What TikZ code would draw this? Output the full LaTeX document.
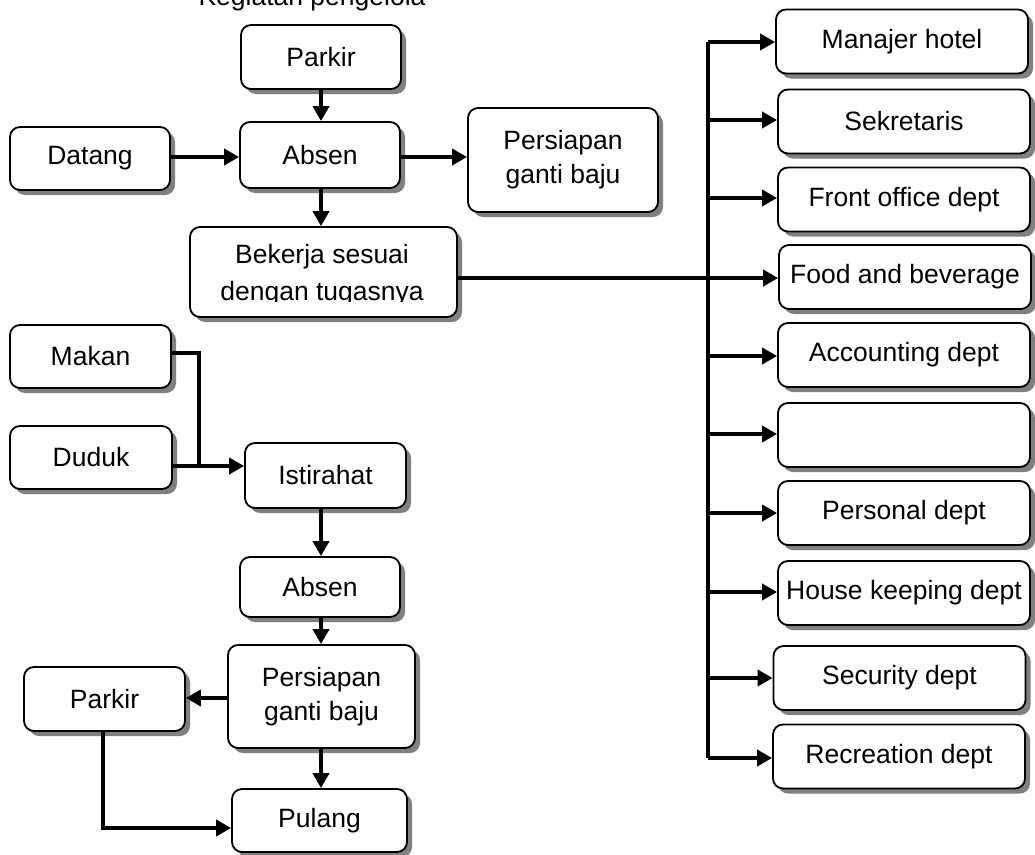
\documentclass[tikz,border=0pt]{standalone}
\usepackage{fontspec}
\setmainfont{Liberation Sans}
\usetikzlibrary{arrows.meta,shadows}
\begin{document}
\begin{tikzpicture}[x=1pt,y=-1pt,
  font=\fontsize{26.5}{34}\selectfont,
  box/.style={draw, line width=1.8pt, rounded corners=10pt, fill=white,
    align=center, inner sep=0pt,
    drop shadow={shadow xshift=5pt, shadow yshift=-5pt, fill=black!50, opacity=1}},
  dept/.style={box, minimum width=252pt, minimum height=64pt},
  link/.style={line width=3.8pt},
  arr/.style={link, -{Triangle[length=15pt,width=16pt]}}]
\useasboundingbox (0,0) rectangle (1035,854);

% heading
\node[anchor=base] (title) at (312,5.5) {Kegiatan pengelola};

% arrival
\node[box, minimum width=160pt, minimum height=64pt] (parkA) at (321,57) {Parkir};
\node[box, minimum width=160pt, minimum height=66pt] (absenA) at (320,155) {Absen};
\node[box, minimum width=160pt, minimum height=63pt] (datang) at (90,158.5) {Datang};
\node[box, minimum width=190pt, minimum height=104pt] (persA) at (563,160) {Persiapan\\ganti baju};
\node[box, minimum width=267pt, minimum height=90pt] (bekerja) at (323.5,272) {};
\begin{scope}
  \clip (192,229) rectangle (455,301);
  \node[anchor=base] (bekerjaA) at (322,263) {Bekerja sesuai};
  \node[anchor=base] (bekerjaB) at (322,300) {dengan tugasnya};
\end{scope}

% departments
\node[dept] (d1) at (902,41.5) {Manajer hotel};
\node[dept] (d2) at (904,121.5) {Sekretaris};
\node[dept] (d3) at (904,199.5) {Front office dept};
\node[dept] (d4) at (905,277) {Food and beverage};
\node[dept] (d5) at (904,355) {Accounting dept};
\node[dept] (d6) at (904,435) {};
\node[dept] (d7) at (904,513) {Personal dept};
\node[dept] (d8) at (904,593) {House keeping dept};
\node[dept] (d9) at (899.5,678) {Security dept};
\node[dept] (d10) at (899,756.5) {Recreation dept};

% break and leaving
\node[box, minimum width=161pt, minimum height=63pt] (makan) at (90.5,356.5) {Makan};
\node[box, minimum width=162pt, minimum height=63pt] (duduk) at (91,457.5) {Duduk};
\node[box, minimum width=161pt, minimum height=65pt] (istirahat) at (325.5,475.5) {Istirahat};
\node[box, minimum width=160pt, minimum height=60pt] (absenB) at (320,587) {Absen};
\node[box, minimum width=187pt, minimum height=103pt] (persB) at (321.5,696.5) {Persiapan\\ganti baju};
\node[box, minimum width=161pt, minimum height=64pt] (parkB) at (104.5,699) {Parkir};
\node[box, minimum width=175pt, minimum height=63pt] (pulang) at (319.5,820.5) {Pulang};

% bus and junction points
\coordinate (busTop) at (708,42);
\coordinate (busBot) at (708,758);
\coordinate (mj) at (199,466);

% arrival flow
\draw[arr] (parkA.south -| 321,0) -- (absenA.north -| 321,0);
\draw[arr] (datang.east |- 0,157) -- (absenA.west |- 0,157);
\draw[arr] (absenA.east |- 0,157) -- (persA.west |- 0,157);
\draw[arr] (absenA.south -| 321,0) -- (bekerja.north -| 321,0);

% bus to departments
\draw[link] (bekerja.east |- 0,278) -- (708,278);
\draw[link] (busTop) -- (busBot);
\draw[arr] (busTop) -- (d1.west |- busTop);
\foreach \n/\y in {d2/120, d3/198, d4/278, d5/356, d6/434, d7/513, d8/592, d9/678}
  \draw[arr] (708,\y) -- (\n.west |- 0,\y);
\draw[arr] (busBot) -- (d10.west |- busBot);

% break flow
\draw[link] (makan.east |- 0,353) -| (mj);
\draw[arr] (duduk.east |- mj) -- (istirahat.west |- mj);
\draw[arr] (istirahat.south -| 321,0) -- (absenB.north -| 321,0);
\draw[arr] (absenB.south -| 321,0) -- (persB.north -| 321,0);
\draw[arr] (persB.west |- 0,698) -- (parkB.east |- 0,698);
\draw[arr] (persB.south -| 321,0) -- (pulang.north -| 321,0);
\draw[arr] (parkB.south -| 103,0) |- (pulang.west |- 0,828);
\end{tikzpicture}
\end{document}
